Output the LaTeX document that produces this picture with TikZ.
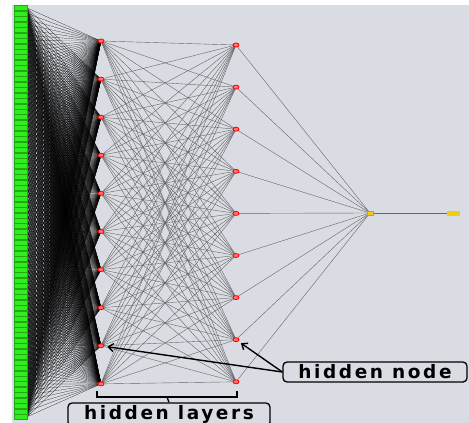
\documentclass[tikz,border=0pt]{standalone}
\usepackage{fontspec}
\newfontfamily\labelfont[LetterSpace=14]{DejaVu Sans Bold}
\usetikzlibrary{arrows.meta,shapes.geometric}
\definecolor{bgc}{HTML}{D9DCE2}
\definecolor{ingreen}{HTML}{30EE1E}
\definecolor{outyel}{HTML}{F2CC10}
\pgfdeclarelayer{back}
\pgfdeclarelayer{edges}
\pgfsetlayers{back,edges,main}
\tikzset{
  inbox/.style={rectangle,fill=ingreen,draw=ingreen!70!black,line width=0.2pt,minimum width=13pt,minimum height=5pt,inner sep=0pt},
  hid/.style={ellipse,draw=red,fill=red!55,line width=0.8pt,minimum width=6pt,minimum height=4pt,inner sep=0pt},
  outn/.style={rectangle,fill=outyel,draw=outyel!80!black,line width=0.3pt,minimum width=6pt,minimum height=4pt,inner sep=0pt},
  outlab/.style={rectangle,fill=outyel,minimum width=13pt,minimum height=5pt,inner sep=0pt},
  inedge/.style={black,line width=0.17pt},
  hedge/.style={black!60,line width=0.4pt},
  callout/.style={draw=black,line width=1.3pt,rounded corners=4pt,fill=bgc,inner sep=0pt,font=\labelfont\fontsize{18.5}{18.5}\selectfont},
  pointer/.style={black,line width=1.4pt,-{Straight Barb[length=5pt,width=8pt]},shorten >=3pt}
}
\begin{document}
\begin{tikzpicture}[x=1pt,y=-1pt]
\useasboundingbox (0,0) rectangle (469,423);
\begin{pgfonlayer}{back}
\fill[white] (0,0) rectangle (469,423);
\fill[bgc] (12,5) rectangle (469,423);
\end{pgfonlayer}
% inputs
\foreach \i in {1,...,76}
  \node[inbox] (in\i) at (20.5,{8+(\i-1)*5.45}) {};
% hidden layer 1
\foreach \j in {1,...,10}
  \node[hid] (ha\j) at (101,{41+(\j-1)*38.1}) {};
% hidden layer 2
\foreach \k in {1,...,9}
  \node[hid] (hb\k) at (236,{45+(\k-1)*42.1}) {};
\node[outn] (out) at (370,213) {};
\node[outlab] (res) at (453.5,213) {};
\begin{pgfonlayer}{edges}
  \foreach \i in {1,...,76}
    \foreach \j in {1,...,10}
      \draw[inedge] (in\i.east) -- (ha\j.center);
  \foreach \j in {1,...,10}
    \foreach \k in {1,...,9}
      \draw[hedge] (ha\j.center) -- (hb\k.center);
  \foreach \k in {1,...,9}
    \draw[hedge] (hb\k.center) -- (out.center);
  \draw[hedge] (out.center) -- (res.west);
\end{pgfonlayer}
% callouts
\node[callout,minimum width=184pt,minimum height=20pt] (hn) at (375,372) {hidden node};
\draw[pointer] (hn.west) -- (hb8);
\draw[pointer] (hn.west) -- (ha9);
\node[callout,minimum width=202pt,minimum height=23pt] (hl) at (169,414.5) {hidden layers};
\coordinate (bl) at (97,391);
\coordinate (br) at (237,391);
\coordinate (bm) at (167,397);
\draw[black,line width=1.3pt] (bl) |- (bm) -| (br);
\draw[black,line width=1.3pt] (bm) -- (hl.north);
\end{tikzpicture}
\end{document}
